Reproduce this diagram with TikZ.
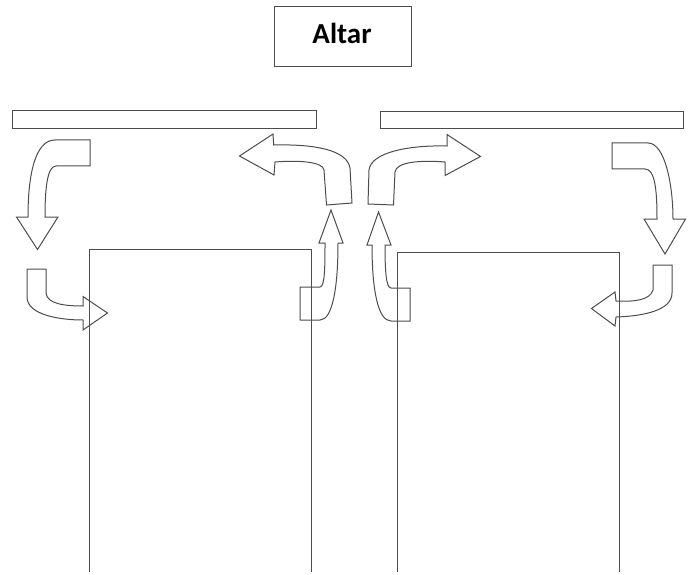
\documentclass[tikz,border=0pt]{standalone}
\usepackage{fontspec}
\setmainfont{Carlito}
\tikzset{
  outline/.style={draw=black!70,line width=1pt,line join=miter},
  bar/.style={outline,minimum width=304pt,minimum height=17.5pt,inner sep=0pt},
}
\begin{document}
\begin{tikzpicture}[x=1pt,y=-1pt]
      \useasboundingbox (0,0) rectangle (691,575);

      \node[outline,minimum width=137pt,minimum height=60pt,inner sep=0pt] (altar) at (342.5,37){};
      \node[font=\bfseries\fontsize{29}{31}\selectfont] (altarlabel) at (342,33){Altar};

      \node[bar] (barl) at (164,119.7){};
      \node[bar,minimum width=303pt] (barr) at (531.5,120){};

      % doors
      \draw[outline] (89.5,572) -- (89.5,249.5) -- (311,249.5) -- (311,572);
      \draw[outline] (397,572) -- (397,252.5) -- (619,252.5) -- (619,572);

      % left side
      \draw[outline] (90,140) -- (90,166) -- (56,166) .. controls (47,166) and (45,190) .. (45,217)
        -- (58,217) -- (37.5,249.5) -- (16.5,217) -- (28,217) .. controls (28,175) and (35,140) .. (55,140) -- cycle;
      \draw[outline] (27,269) -- (46,269) -- (46,293) .. controls (47,304) and (65,306) .. (83,306)
        -- (83,296.5) -- (107.5,313) -- (83,330) -- (83,320) .. controls (60,320) and (27,315) .. (27,297) -- cycle;

      % middle left
      \draw[outline] (239.5,156) -- (273,134) -- (273.7,145) .. controls (315,144) and (347,150) .. (350,168)
        -- (352,203) -- (326.5,205) -- (324,170) .. controls (323,162) and (300,160) .. (275,162) -- (274,175) -- cycle;
      \draw[outline] (331,210) -- (343,243) -- (338,243) .. controls (338,290) and (332,320) .. (320,320)
        -- (300,320) -- (300,287) -- (320,287) .. controls (325,287) and (325,265) .. (325,243) -- (319,243) -- cycle;

      % middle right
      \draw[outline] (480.5,156.5) -- (447,134.5) -- (447,146) .. controls (410,145) and (371,152) .. (369,170)
        -- (368,204) -- (393.5,205) -- (395,172) .. controls (396,162) and (420,160) .. (445,162) -- (445,175.5) -- cycle;
      \draw[outline] (378.5,212) -- (391,245) -- (385,245) .. controls (385,270) and (386,288) .. (391,288)
        -- (410,288) -- (410,321) -- (391,321) .. controls (378,321) and (372,290) .. (372,245) -- (367,245) -- cycle;

      % right side
      \draw[outline] (612,143) -- (612,169) -- (645,169) .. controls (655,169) and (657,190) .. (657,219)
        -- (644,219) -- (665,254) -- (685.5,219) -- (673,219) .. controls (673,185) and (665,143) .. (648,143) -- cycle;
      \draw[outline] (653,265) -- (672,265) -- (672,293) .. controls (672,310) and (645,316) .. (616,317)
        -- (615,326) -- (591.5,308.5) -- (615,292) -- (616,301) .. controls (635,302) and (650,300) .. (653,290) -- cycle;
\end{tikzpicture}
\end{document}
